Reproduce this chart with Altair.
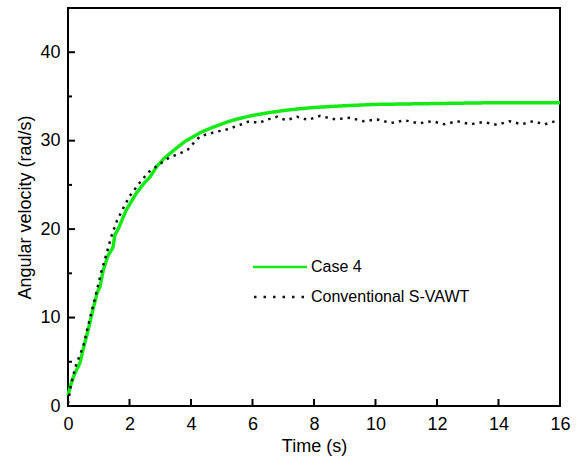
import altair as alt
import pandas as pd

# Case 4 (green)
case4_t = [0.0, 0.1, 0.2, 0.39, 0.5, 0.65, 0.81, 0.95, 1.04, 1.15, 1.3, 1.37, 1.46, 1.53,
           1.63, 1.9, 2.23, 2.5, 2.67, 2.89, 3.1, 3.3, 3.54, 3.8, 4.29, 4.7, 5.17, 5.5,
           6.0, 6.5, 7.0, 7.5, 8.0, 9.0, 10.0, 11.0, 12.0, 13.0, 14.0, 15.0, 16.0]
case4_v = [1.2, 2.5, 3.5, 4.9, 6.5, 8.5, 10.9, 12.8, 13.5, 15.4, 17.0, 17.4, 17.9, 19.4,
           20.0, 22.2, 24.1, 25.3, 25.9, 27.1, 27.9, 28.5, 29.2, 29.9, 30.9, 31.5, 32.1, 32.45,
           32.85, 33.15, 33.4, 33.6, 33.75, 33.95, 34.1, 34.15, 34.2, 34.25, 34.3, 34.3, 34.3]

# Conventional S-VAWT (black dotted)
conv_t = [0.0, 0.1, 0.25, 0.5, 0.72, 0.9, 1.1, 1.26, 1.43, 1.6, 1.8, 2.0, 2.3, 2.6, 3.0,
          3.3, 3.6, 3.9, 4.1, 4.3, 4.7, 5.2, 5.6, 5.9, 6.2, 6.5, 6.8, 7.1, 7.45, 7.8, 8.2,
          8.7, 9.17, 9.6, 10.05, 10.5, 10.96, 11.4, 11.84, 12.25, 12.65, 13.1, 13.5, 13.95,
          14.37, 14.75, 15.12, 15.5, 15.84, 16.0]
conv_v = [0.3, 2.5, 4.5, 6.8, 10.0, 12.5, 15.4, 17.3, 19.4, 21.0, 22.4, 23.7, 25.1, 26.4, 27.4,
          28.1, 28.5, 29.0, 29.8, 30.5, 30.9, 31.3, 31.8, 32.2, 32.0, 32.4, 32.7, 32.3, 32.7, 32.35, 32.8,
          32.4, 32.6, 32.2, 32.4, 32.0, 32.3, 31.95, 32.2, 31.85, 32.2, 31.85, 32.1, 31.8,
          32.2, 31.85, 32.2, 31.85, 32.2, 32.0]

series_names = ["Case 4", "Conventional S-VAWT"]
series_colors = ["#16ea16", "#111111"]
x_ticks = [0, 2, 4, 6, 8, 10, 12, 14, 16]
y_major = [0, 10, 20, 30, 40]
y_minor = [5, 15, 25, 35]

W, H = 492, 398

df = pd.concat([
    pd.DataFrame({"t": case4_t, "v": case4_v, "series": series_names[0]}),
    pd.DataFrame({"t": conv_t, "v": conv_v, "series": series_names[1]}),
])

xscale = alt.Scale(domain=[0, 16], nice=False)
yscale = alt.Scale(domain=[0, 45], nice=False)

lines = alt.Chart(df).mark_line().encode(
    x=alt.X("t:Q", scale=xscale, title="Time (s)",
            axis=alt.Axis(values=x_ticks, grid=False, domain=False, ticks=False,
                          labelPadding=9, titlePadding=4, labelFlush=False)),
    y=alt.Y("v:Q", scale=yscale, title="Angular velocity (rad/s)",
            axis=alt.Axis(values=y_major, grid=False, domain=False, ticks=False,
                          labelPadding=8, titlePadding=5)),
    color=alt.Color("series:N", scale=alt.Scale(domain=series_names, range=series_colors), legend=None),
    strokeDash=alt.StrokeDash("series:N", scale=alt.Scale(domain=series_names, range=[[1, 0], [2.5, 5]]),
                              legend=None),
    strokeWidth=alt.StrokeWidth("series:N", scale=alt.Scale(domain=series_names, range=[3.5, 2.5]),
                                legend=None),
    order=alt.Order("t:Q"),
)

xt = alt.Chart(pd.DataFrame({"t": x_ticks[1:-1]})).mark_rule(color="black", strokeWidth=2).encode(
    x=alt.X("t:Q", scale=xscale), y=alt.value(H - 7), y2=alt.value(H))
ymaj = alt.Chart(pd.DataFrame({"v": y_major[1:]})).mark_rule(color="black", strokeWidth=2).encode(
    y=alt.Y("v:Q", scale=yscale), x=alt.value(0), x2=alt.value(7))
ymin = alt.Chart(pd.DataFrame({"v": y_minor})).mark_rule(color="black", strokeWidth=2).encode(
    y=alt.Y("v:Q", scale=yscale), x=alt.value(0), x2=alt.value(4))

# manual legend
one = pd.DataFrame({"k": [0]})
lg1 = alt.Chart(one).mark_rule(color=series_colors[0], strokeWidth=2.5).encode(
    x=alt.value(185), x2=alt.value(239), y=alt.value(259))
lg2 = alt.Chart(one).mark_rule(color=series_colors[1], strokeWidth=2.5, strokeDash=[2.5, 7]).encode(
    x=alt.value(186), x2=alt.value(239), y=alt.value(289))
lt1 = alt.Chart(one).mark_text(align="left", baseline="middle", fontSize=16, color="black").encode(
    x=alt.value(243), y=alt.value(259), text=alt.value(series_names[0]))
lt2 = alt.Chart(one).mark_text(align="left", baseline="middle", fontSize=16, color="black").encode(
    x=alt.value(243), y=alt.value(289), text=alt.value(series_names[1]))

chart = alt.layer(xt, ymaj, ymin, lines, lg1, lg2, lt1, lt2).properties(
    width=W, height=H,
    autosize=alt.AutoSizeParams(type="none"),
    padding={"left": 68, "top": 8, "right": 16, "bottom": 51},
).configure(font="Liberation Sans").configure_view(
    stroke="black", strokeWidth=2
).configure_axis(
    labelFontSize=18, titleFontSize=18, labelColor="black", titleColor="black",
    titleFontWeight="normal", labelFont="Liberation Sans", titleFont="Liberation Sans"
)

chart.save("out.html", embed_options={"renderer": "svg", "actions": False})
